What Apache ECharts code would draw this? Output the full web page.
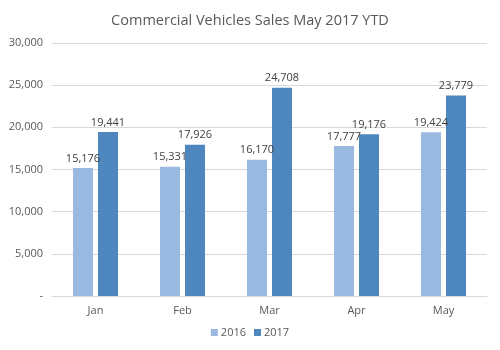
<!DOCTYPE html>
<html>
<head>
<meta charset="utf-8">
<script src="https://cdn.jsdelivr.net/npm/echarts@6/dist/echarts.min.js"></script>
<style>
  html, body { margin: 0; padding: 0; background: #fff; }
  #chart { width: 500px; height: 350px; }
</style>
</head>
<body>
<div id="chart"></div>
<script>
// data
var months = ['Jan', 'Feb', 'Mar', 'Apr', 'May'];
var sales2016 = [15176, 15331, 16170, 17777, 19424];
var sales2017 = [19441, 17926, 24708, 19176, 23779];

var fmt = function (v) {
    if (v === 0) return '-';
    return v.toLocaleString('en-US');
};

var chart = echarts.init(document.getElementById('chart'));
var labelStyle = {
    show: true,
    position: 'top',
    distance: 4,
    color: '#404040',
    fontSize: 11,
    fontFamily: 'Open Sans',
    formatter: function (p) { return fmt(p.value); }
};

chart.setOption({
    animation: false,
    textStyle: { fontFamily: 'Open Sans' },
    title: {
        text: 'Commercial Vehicles Sales May 2017 YTD',
        left: 'center',
        top: 8,
        textStyle: { fontSize: 14.5, fontWeight: 'normal', color: '#595959', fontFamily: 'Open Sans' }
    },
    legend: {
        bottom: 7,
        left: 'center',
        itemWidth: 7,
        itemHeight: 7,
        itemGap: 8,
        icon: 'rect',
        textStyle: { fontSize: 11, color: '#595959', padding: [0, 0, 0, -2] },
        data: ['2016', '2017']
    },
    grid: { left: 52, right: 13, top: 43, bottom: 54 },
    xAxis: {
        type: 'category',
        data: months,
        axisLine: { lineStyle: { color: '#d9d9d9' } },
        axisTick: { show: false },
        axisLabel: { color: '#595959', fontSize: 11, margin: 9 }
    },
    yAxis: {
        type: 'value',
        min: 0,
        max: 30000,
        interval: 5000,
        axisLine: { show: false },
        axisTick: { show: false },
        splitLine: { lineStyle: { color: '#d9d9d9' } },
        axisLabel: { color: '#595959', fontSize: 11, margin: 9, formatter: fmt }
    },
    series: [
        {
            name: '2016',
            type: 'bar',
            data: sales2016,
            barWidth: '23%',
            barGap: '25%',
            itemStyle: { color: '#9ab9e0' },
            label: labelStyle
        },
        {
            name: '2017',
            type: 'bar',
            data: sales2017,
            barWidth: '23%',
            itemStyle: { color: '#4e87be' },
            label: labelStyle
        }
    ]
});
</script>
</body>
</html>
